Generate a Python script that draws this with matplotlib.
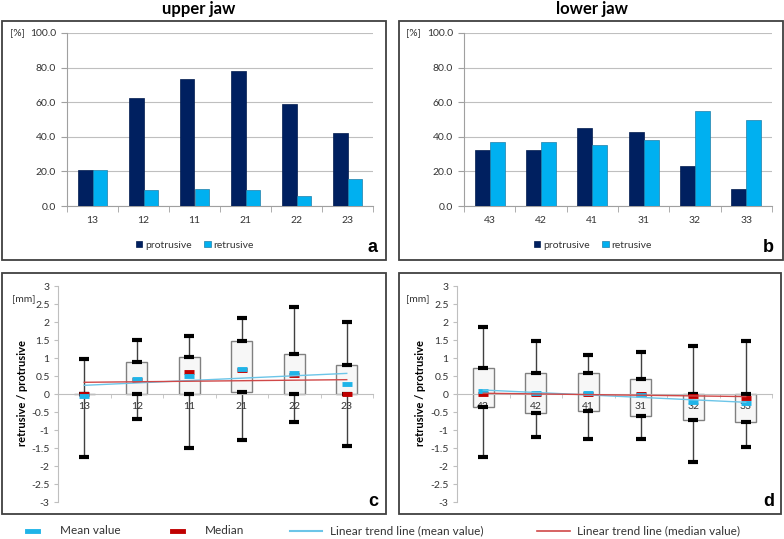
# Protrusive / retrusive tooth positions, upper and lower jaw
import numpy as np
import matplotlib.pyplot as plt
from matplotlib.patches import Rectangle
from matplotlib.lines import Line2D

plt.rcParams['font.family'] = ['Lato', 'DejaVu Sans']

# bar charts (percent of cases)
upper_teeth = ['13', '12', '11', '21', '22', '23']
lower_teeth = ['43', '42', '41', '31', '32', '33']
upper_protrusive = [20.8, 62.5, 73.4, 78.1, 59.0, 42.4]
upper_retrusive = [20.8, 9.4, 10.0, 9.4, 6.0, 15.6]
lower_protrusive = [32.3, 32.3, 45.2, 43.0, 23.1, 10.0]
lower_retrusive = [36.9, 36.9, 35.0, 38.1, 54.8, 50.0]

# box plots (mm)
upper_min = [-1.76, -0.70, -1.51, -1.29, -0.78, -1.44]
upper_q1 = [0.0, 0.0, 0.0, 0.05, 0.0, 0.0]
upper_q3 = [0.0, 0.90, 1.03, 1.46, 1.10, 0.80]
upper_max = [0.98, 1.51, 1.60, 2.12, 2.42, 2.01]
upper_median = [0.0, 0.38, 0.60, 0.66, 0.53, 0.0]
upper_mean = [-0.05, 0.42, 0.51, 0.70, 0.58, 0.28]

lower_min = [-1.76, -1.20, -1.25, -1.26, -1.90, -1.46]
lower_q1 = [-0.37, -0.54, -0.46, -0.61, -0.71, -0.79]
lower_q3 = [0.73, 0.57, 0.59, 0.41, 0.0, 0.0]
lower_max = [1.85, 1.46, 1.07, 1.17, 1.32, 1.46]
lower_median = [0.0, 0.0, 0.0, 0.0, -0.05, -0.10]
lower_mean = [0.07, 0.02, 0.04, -0.02, -0.22, -0.25]

DARK = '#002060'
LIGHT = '#00B0F0'
MEAN_C = '#1FB4E8'
MED_C = '#C00000'
TREND_MEAN = '#6CC5E8'
TREND_MED = '#D04848'
GRID = '#BFBFBF'
TXT = '#333333'

W, H = 784, 539
fig = plt.figure(figsize=(W / 100, H / 100), dpi=100)


def fx(px):
    return px / W


def fy(py):
    return 1 - py / H


def frame(x0, y0, x1, y1):
    fig.add_artist(Rectangle((fx(x0), fy(y1)), fx(x1) - fx(x0), fy(y0) - fy(y1),
                             transform=fig.transFigure, fill=False,
                             ec='#404040', lw=1.3))


def bar_panel(left, right, teeth, prot, retr, leg_x):
    ax = fig.add_axes([fx(left), fy(206), fx(right) - fx(left), fy(33) - fy(206)])
    x = np.arange(len(teeth))
    w = 0.29
    ax.bar(x - w / 2, prot, w, color=DARK, edgecolor='#001a4d', lw=0.5,
           label='protrusive', zorder=3)
    ax.bar(x + w / 2, retr, w, color=LIGHT, edgecolor='#1f7fa8', lw=0.5,
           label='retrusive', zorder=3)
    ax.set_xlim(-0.5, len(teeth) - 0.5)
    ax.set_ylim(0, 100)
    ax.set_yticks(np.arange(0, 101, 20))
    ax.set_yticklabels(['%.1f' % v for v in np.arange(0, 101, 20)])
    ax.yaxis.grid(True, color=GRID, lw=0.8, zorder=0)
    ax.set_xticks(x)
    ax.set_xticklabels(teeth)
    ax.set_xticks(np.arange(-0.5, len(teeth)), minor=True)
    ax.tick_params(axis='x', which='major', length=0, pad=7)
    ax.tick_params(axis='x', which='minor', length=4, color='#A0A0A0')
    ax.tick_params(axis='y', length=4, color='#A0A0A0', pad=4)
    ax.tick_params(labelsize=7.5, labelcolor=TXT)
    for s in ['top', 'right']:
        ax.spines[s].set_visible(False)
    for s in ['left', 'bottom']:
        ax.spines[s].set_color('#A0A0A0')
    ax.legend(loc='center', bbox_to_anchor=(fx(leg_x), fy(245)),
              bbox_transform=fig.transFigure, ncol=2, frameon=False,
              fontsize=7.5, handlelength=0.6, handleheight=0.6,
              handletextpad=0.3, columnspacing=1.2, labelcolor=TXT)
    return ax


def box_panel(left, right, teeth, vmin, q1, q3, vmax, med, mean):
    ax = fig.add_axes([fx(left), fy(502), fx(right) - fx(left), fy(286) - fy(502)])
    x = np.arange(1, len(teeth) + 1)
    q1 = np.array(q1)
    q3 = np.array(q3)
    ax.vlines(x, vmin, vmax, color='#404040', lw=1, zorder=2)
    ax.bar(x, q3 - q1, 0.4, bottom=q1, color='#F7F7F7', edgecolor='#808080',
           lw=1, zorder=2.2)
    caps = dict(ls='none', marker='_', ms=7.5, mew=3, color='black', zorder=3)
    ax.plot(x, vmin, **caps)
    ax.plot(x, vmax, **caps)
    ax.plot(x, q1, **caps)
    ax.plot(x, q3, **caps)
    ax.plot(x, med, ls='none', marker='_', ms=7.5, mew=3.5, color=MED_C, zorder=4)
    ax.plot(x, mean, ls='none', marker='_', ms=7.5, mew=3.5, color=MEAN_C, zorder=4)
    # linear trend lines through mean and median values
    xt = np.array([x[0], x[-1]])
    k, b = np.polyfit(x, mean, 1)
    ax.plot(xt, k * xt + b, color=TREND_MEAN, lw=1, zorder=5)
    k, b = np.polyfit(x, med, 1)
    ax.plot(xt, k * xt + b, color=TREND_MED, lw=1, zorder=5)
    ax.set_xlim(0.5, len(teeth) + 0.5)
    ax.set_ylim(-3, 3)
    yt = np.arange(-3, 3.01, 0.5)
    ax.set_yticks(yt)
    ax.set_yticklabels(['%g' % v for v in yt])
    ax.set_xticks(x)
    ax.set_xticklabels(teeth)
    ax.set_xticks(np.arange(0.5, len(teeth) + 1), minor=True)
    ax.spines['bottom'].set_position(('data', 0))
    for s in ['top', 'right']:
        ax.spines[s].set_visible(False)
    for s in ['left', 'bottom']:
        ax.spines[s].set_color('#BFBFBF')
    ax.tick_params(axis='x', which='major', length=0, pad=6)
    ax.tick_params(axis='x', which='minor', length=3, color='#BFBFBF')
    ax.tick_params(axis='y', length=3, color='#BFBFBF', pad=3)
    ax.tick_params(labelsize=7.5, labelcolor=TXT)
    ax.set_axisbelow(False)
    for t in ax.get_xticklabels():
        t.set_zorder(6)
    return ax


# panels a, b
bar_panel(67, 373, upper_teeth, upper_protrusive, upper_retrusive, 195)
bar_panel(464, 772, lower_teeth, lower_protrusive, lower_retrusive, 593)
fig.text(fx(17), fy(33), '[%]', ha='center', va='center', fontsize=7.5, color=TXT)
fig.text(fx(413), fy(33), '[%]', ha='center', va='center', fontsize=7.5, color=TXT)

# panels c, d
box_panel(58, 373, upper_teeth, upper_min, upper_q1, upper_q3, upper_max,
          upper_median, upper_mean)
box_panel(457, 772, lower_teeth, lower_min, lower_q1, lower_q3, lower_max,
          lower_median, lower_mean)
for px in [23, 420]:
    fig.text(fx(px), fy(393), 'retrusive / protrusive', rotation=90, ha='center',
             va='center', fontsize=8, weight='bold', color='black')
for px in [24, 418]:
    fig.text(fx(px), fy(300), '[mm]', ha='center', va='center', fontsize=7.5,
             color=TXT)

# titles, frames, panel letters
fig.text(fx(199), fy(9), 'upper jaw', ha='center', va='center', fontsize=12,
         weight='bold')
fig.text(fx(592), fy(9), 'lower jaw', ha='center', va='center', fontsize=12,
         weight='bold')
frame(2, 21, 386, 260)
frame(399, 21, 783, 260)
frame(2, 273, 386, 514)
frame(399, 273, 781, 514)
for lab, px, py in [('a', 373, 247), ('b', 768, 247), ('c', 373, 502), ('d', 769, 502)]:
    fig.text(fx(px), fy(py), lab, ha='center', va='center', fontsize=13,
             weight='bold', family='Liberation Sans')

# bottom legend
ly = fy(531)
for x0, x1, col, lw in [(27, 38, MEAN_C, 3.5), (172, 183, MED_C, 3.5),
                        (290, 322, TREND_MEAN, 1.5), (537, 570, TREND_MED, 1.2)]:
    fig.add_artist(Line2D([fx(x0), fx(x1)], [ly, ly], color=col, lw=lw,
                          transform=fig.transFigure))
for px, s in [(60, 'Mean value'), (205, 'Median'),
              (330, 'Linear trend line (mean value)'),
              (577, 'Linear trend line (median value)')]:
    fig.text(fx(px), ly, s, ha='left', va='center', fontsize=8.5, color=TXT)

fig.savefig('out.png', dpi=100)
